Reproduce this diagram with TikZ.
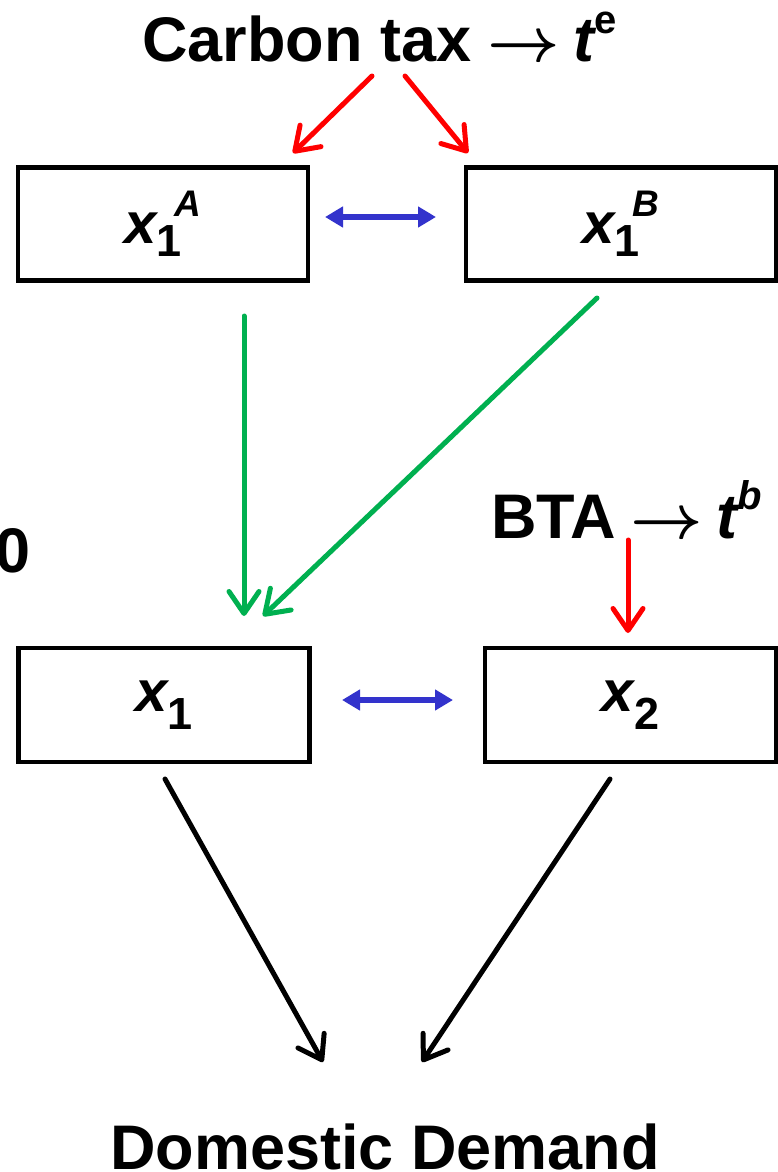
\documentclass[tikz,border=0pt]{standalone}
\usepackage{amsmath}
\usepackage{graphicx}
\usepackage{fontspec}
\setmainfont{Liberation Sans}
\usetikzlibrary{arrows.meta}
\definecolor{myred}{RGB}{255,0,0}
\definecolor{mygreen}{RGB}{0,176,80}
\definecolor{myblue}{RGB}{51,51,204}
\newcommand{\tarrow}{\scalebox{6.3}{\fontsize{10}{10}\selectfont$\boldsymbol{\rightarrow}$}}
\newcommand{\boxvar}[2]{{\itshape x}\rlap{\raisebox{-13pt}{\fontsize{45}{45}\selectfont #1}}\hspace{18pt}\raisebox{27pt}{\fontsize{37}{37}\selectfont\itshape #2}}
\newcommand{\boxvarsub}[1]{{\itshape x}\raisebox{-18pt}{\fontsize{45}{45}\selectfont #1}}
\tikzset{
  varbox/.style={draw=black, line width=4.5pt, inner sep=0pt, font=\fontsize{58}{58}\selectfont\bfseries},
  lbl/.style={inner sep=0pt, anchor=base west, font=\fontsize{63}{63}\selectfont\bfseries},
  barb/.style={line width=5pt, line cap=round, -{Straight Barb[length=22pt,width=30pt,line width=5pt,round]}},
  redarr/.style={barb, draw=myred},
  greenarr/.style={barb, draw=mygreen},
  blackarr/.style={barb, draw=black},
  bluearr/.style={line width=6pt, draw=myblue, {Triangle[length=18pt,width=20pt]}-{Triangle[length=18pt,width=20pt]}}
}
\begin{document}
\begin{tikzpicture}[x=1pt,y=-1pt]
\useasboundingbox (0,0) rectangle (778,1172);
% labels
\node[lbl] (ctax) at (142,62) {Carbon tax\hspace{16pt}\tarrow\hspace{14pt}{\itshape t}\raisebox{0.45em}{\fontsize{40}{40}\selectfont e}};
\node[lbl] (bta) at (491,538) {BTA\hspace{14pt}\tarrow\hspace{14pt}{\itshape t}\raisebox{0.45em}{\fontsize{40}{40}\selectfont\itshape b}};
\node[inner sep=0pt, anchor=base east, font=\fontsize{63}{63}\selectfont\bfseries] (zero) at (31,572) {0};
\node[lbl] (dd) at (110,1169) {Domestic Demand};
% boxes
\node[varbox, minimum width=290pt, minimum height=113pt] (xa) at (163,224) {\boxvar{1}{A}};
\node[varbox, minimum width=310pt, minimum height=113pt] (xb) at (621,224) {\boxvar{1}{B}};
\node[varbox, minimum width=291pt, minimum height=114pt] (x1) at (164,705) {\boxvarsub{1}};
\node[varbox, minimum width=291pt, minimum height=114pt] (x2) at (630.5,705) {\boxvarsub{2}};
% connector endpoints
\coordinate (ra0) at (372,76);
\coordinate (ra1) at (293,153);
\coordinate (rb0) at (405,76);
\coordinate (rb1) at (468,153);
\coordinate (ga0) at (244,316);
\coordinate (ga1) at (244,616);
\coordinate (gb0) at (597,298);
\coordinate (gb1) at (263,616);
\coordinate (bt0) at (628,540);
\coordinate (bt1) at (628,633);
\coordinate (k10) at (165,779);
\coordinate (k11) at (323,1062);
\coordinate (k20) at (610,779);
\coordinate (k21) at (422,1062);
\coordinate (u0) at (325,217);
\coordinate (u1) at (436,217);
\coordinate (l0) at (342,700);
\coordinate (l1) at (453,700);
% arrows
\draw[redarr] (ra0) -- (ra1);
\draw[redarr] (rb0) -- (rb1);
\draw[greenarr] (ga0) -- (ga1);
\draw[greenarr] (gb0) -- (gb1);
\draw[redarr] (bt0) -- (bt1);
\draw[blackarr] (k10) -- (k11);
\draw[blackarr] (k20) -- (k21);
\draw[bluearr] (u0) -- (u1);
\draw[bluearr] (l0) -- (l1);
\end{tikzpicture}
\end{document}
